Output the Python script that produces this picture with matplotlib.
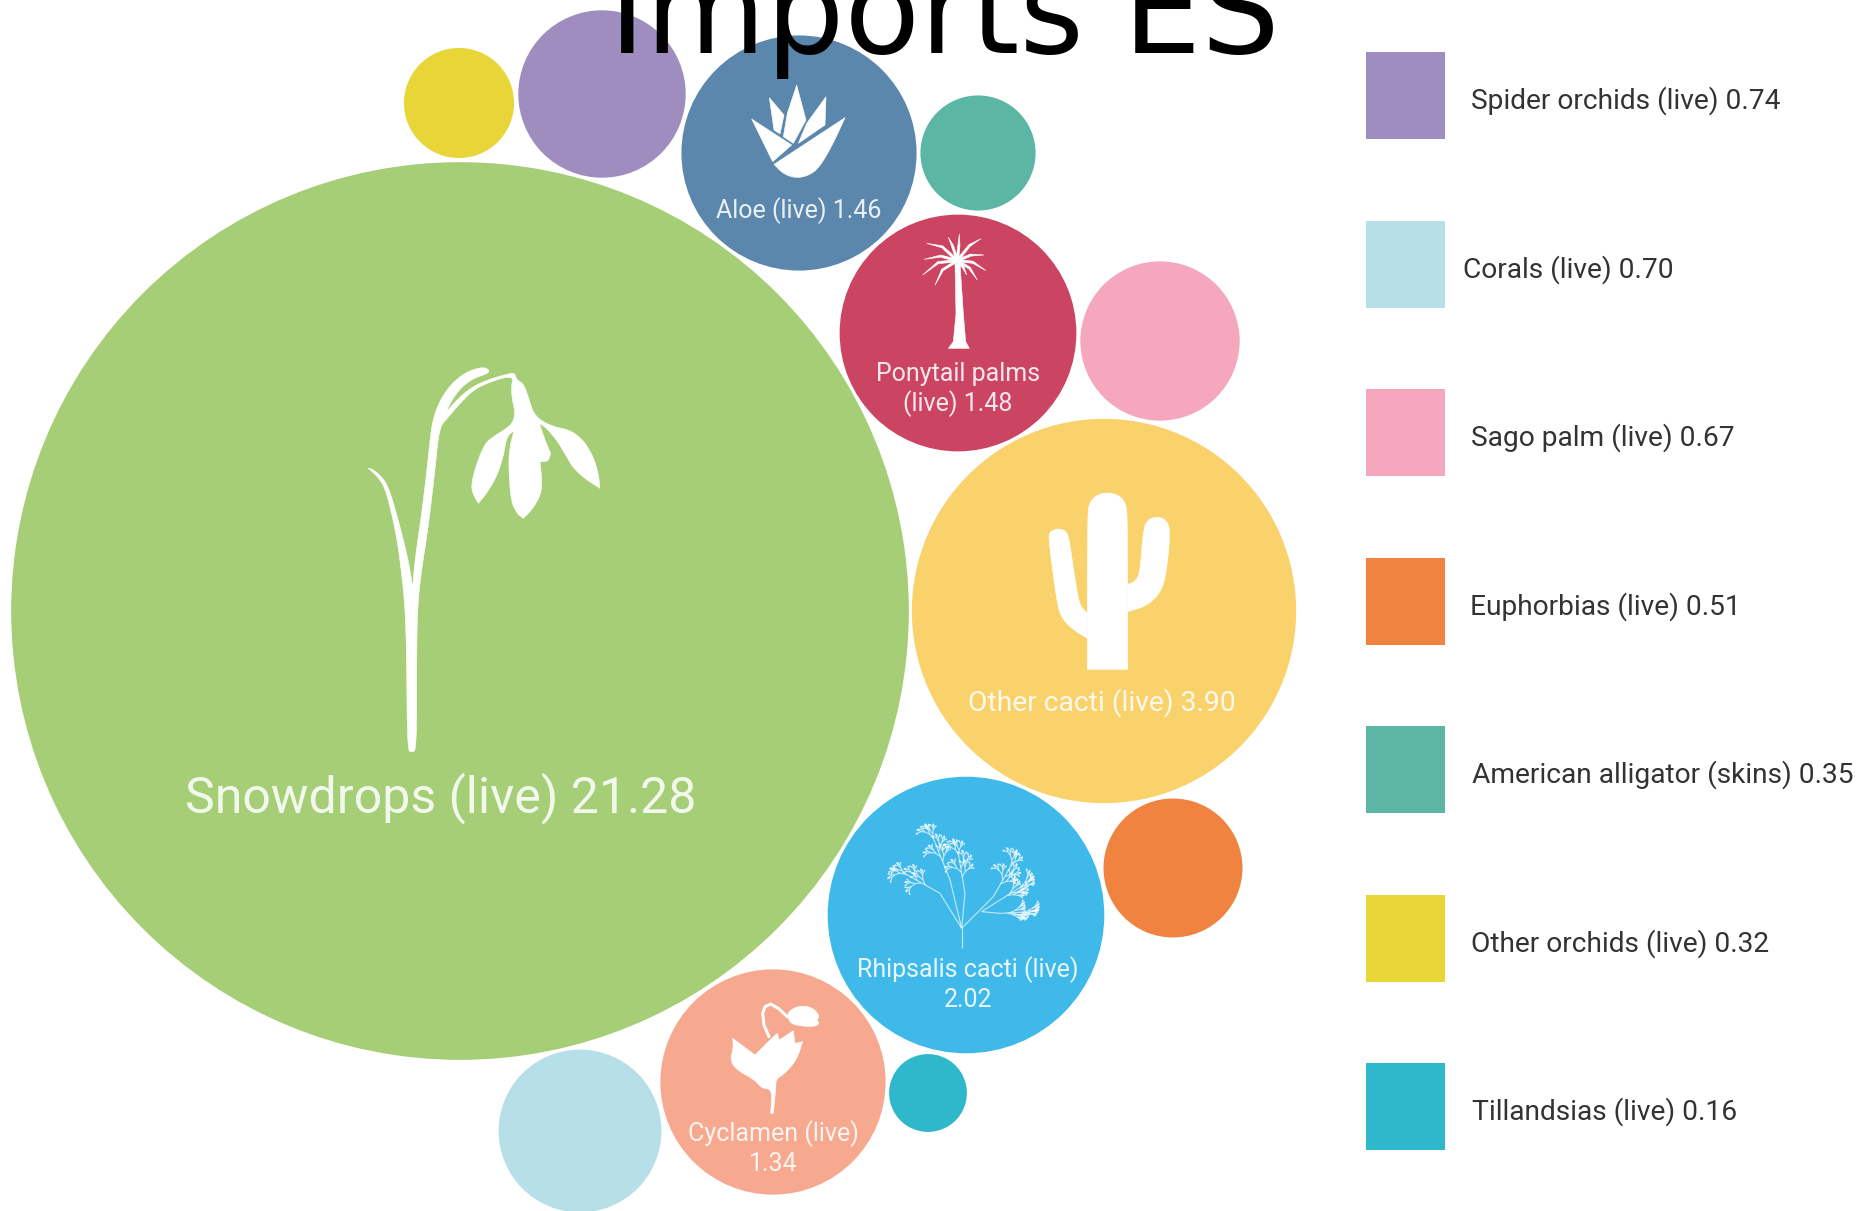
"""
Imports ES bubble chart, with a legend for the small bubbles.
"""

import matplotlib
matplotlib.use('Agg')
import matplotlib.pyplot as plt
from matplotlib.collections import LineCollection
from matplotlib.patches import Circle, Polygon, Rectangle
import numpy as np

# Values
names = ['Snowdrops (live)', 'Other cacti (live)', 'Rhipsalis cacti (live)', 'Ponytail palms (live)',
         'Aloe (live)', 'Cyclamen (live)', 'Spider orchids (live)', 'Corals (live)', 'Sago palm (live)',
         'Euphorbias (live)', 'American alligator (skins)', 'Other orchids (live)', 'Tillandsias (live)']
values = [21.28, 3.90, 2.02, 1.48, 1.46, 1.34, 0.74, 0.70, 0.67, 0.51, 0.35, 0.32, 0.16]
colors = ['#a5ce76', '#f9d26b', '#3eb9ea', '#cb4563', '#5c87ac', '#f6a98f', '#a08dbf', '#b7dfe7',
          '#f5a7be', '#f0833f', '#5bb7a4', '#e8d639', '#2fb7cc']

# Packed layout of the bubbles, pixels of the figure
bubble_x = [460, 1104, 966, 958, 799, 773, 602, 580, 1160, 1173, 978, 459, 928]
bubble_y = [611, 611, 915, 333, 153, 1082, 94, 1131, 341, 868, 153, 103, 1093]
radius_scale = 97.3

# Text inside the bubbles: name index, lines, x, y
inner_labels = [(0, ['Snowdrops (live) 21.28'], 441, 798, 36),
                (1, ['Other cacti (live) 3.90'], 1102, 703, 20.3),
                (2, ['Rhipsalis cacti (live)', '2.02'], 968, 970, 18),
                (3, ['Ponytail palms', '(live) 1.48'], 958, 374, 18),
                (4, ['Aloe (live) 1.46'], 799, 211, 18),
                (5, ['Cyclamen (live)', '1.34'], 773, 1134, 18)]

# Legend
legend_index = [6, 7, 8, 9, 10, 11, 12]
legend_text_x = [1471, 1463, 1471, 1470, 1472, 1471, 1472]
legend_top = 52
legend_step = 168.5

snowdrop = [(215, 1238), (202, 1228), (200, 950), (195, 800), (185, 700), (170, 590), (150, 500), (135, 445),
            (115, 412), (85, 385), (100, 388), (135, 420), (155, 470), (180, 560), (205, 660), (218, 740),
            (225, 660), (245, 520), (262, 380), (272, 280), (280, 235), (300, 180), (335, 130), (380, 95),
            (430, 80), (450, 92), (440, 102), (400, 115), (360, 145), (330, 190), (320, 215), (350, 180),
            (390, 145), (440, 120), (510, 100), (525, 100), (530, 120), (550, 130), (565, 170), (578, 215),
            (600, 240), (640, 260), (690, 270), (730, 300), (760, 350), (775, 400), (780, 445), (740, 420),
            (700, 385), (680, 350), (650, 300), (620, 265), (598, 250), (615, 300), (632, 340), (625, 365),
            (600, 365), (607, 430), (600, 470), (575, 510), (550, 535), (530, 520), (512, 480), (505, 360),
            (512, 310), (522, 272), (500, 290), (490, 350), (470, 410), (440, 460), (415, 490), (400, 465),
            (393, 435), (410, 370), (435, 310), (460, 290), (500, 265), (520, 245), (525, 215), (515, 170),
            (515, 130), (520, 115), (500, 110), (440, 130), (400, 150), (360, 190), (305, 255), (295, 290),
            (285, 390), (265, 560), (240, 720), (232, 820), (230, 950), (230, 1228)]
snowdrop_sharp = [(85, 385), (218, 740), (320, 215), (780, 445), (598, 250), (632, 340), (600, 365), (550, 535),
                  (522, 272), (415, 490), (305, 255)]

aloe_parts = [[(222, 403), (435, 263), (400, 340), (360, 410), (330, 435), (290, 445), (250, 432)],
              [(155, 267), (275, 345), (218, 395)],
              [(208, 203), (252, 255), (240, 312), (222, 300)],
              [(290, 165), (318, 270), (280, 340), (250, 320), (262, 250)],
              [(378, 200), (375, 285), (295, 340), (320, 280)]]
aloe_sharp = [(222, 403), (435, 263)]

palm_trunk = [(745, 955), (760, 935), (768, 850), (765, 700), (780, 700), (790, 850), (797, 935), (808, 955)]
palm_base = (772, 692)
palm_tips = [(680, 640), (745, 622), (778, 612), (843, 626), (852, 675), (858, 722), (832, 750),
             (800, 735), (705, 766), (668, 735), (672, 688)]
palm_bend = [(0, -14), (-3, -10), (0, -6), (0, -14), (0, -10), (4, -12), (8, -8),
             (5, -3), (-10, -8), (-5, -14), (0, -10)]

cactus_parts = [[(262, 658), (262, 190), (270, 155), (290, 135), (322, 127), (355, 135), (375, 155), (383, 190),
                 (383, 658)],
                [(145, 262), (150, 245), (175, 235), (198, 243), (207, 265), (212, 300), (235, 450), (245, 472),
                 (262, 490), (262, 565), (220, 540), (185, 505), (170, 455)],
                [(430, 235), (445, 208), (470, 200), (497, 208), (512, 240), (498, 380), (480, 430), (440, 468),
                 (383, 485), (383, 403), (405, 395), (420, 370)]]
cactus_sharp = [(262, 658), (383, 658), (262, 490), (262, 565), (383, 485), (383, 403)]

tree_limbs = [[(335, 445), (335, 385)],
              [(335, 385), (270, 280), (190, 235)],
              [(335, 385), (300, 240), (260, 140)],
              [(335, 385), (345, 280), (330, 190)],
              [(335, 385), (430, 290), (470, 220)],
              [(395, 335), (450, 300), (490, 275)],
              [(395, 335), (450, 340), (490, 338)]]
tree_spread = [26, 26, 24, 28, 26, 18, 14]
tree_wiggle = [1.0, 1.0, 0.6, 1.3, 0.8, 1.1, 0.7]

cyclamen_body = [(98, 145), (165, 195), (215, 145), (232, 130), (238, 150), (280, 122), (285, 160), (308, 155),
                 (290, 210), (255, 250), (228, 268), (228, 290), (220, 370), (212, 370), (217, 298), (185, 295),
                 (165, 270), (110, 240), (90, 210), (100, 175)]
cyclamen_sharp = [(98, 145), (165, 195), (232, 130), (238, 150), (280, 122), (285, 160), (308, 155), (220, 370),
                  (212, 370)]
cyclamen_head = [(260, 70), (290, 48), (335, 50), (360, 78), (350, 90), (358, 100), (345, 110), (300, 108),
                 (270, 100)]
cyclamen_stalk = [(207, 140), (192, 105), (188, 70), (195, 50), (212, 42), (235, 55), (262, 80)]


def to_fig(points, left, top):
    """Crop points (3x) to figure pixels."""
    return [(left + x / 3, top + y / 3) for x, y in points]


def smooth(points, sharp=(), passes=3):
    """Chaikin corner cutting, points listed in sharp stay corners."""
    pts = []
    for p in points:
        pts.extend([p, p, p] if p in sharp else [p])
    pts = np.array(pts, dtype=float)
    for _ in range(passes):
        nxt = np.roll(pts, -1, axis=0)
        pts = np.column_stack([0.75 * pts + 0.25 * nxt, 0.25 * pts + 0.75 * nxt]).reshape(-1, 2)
    return [tuple(p) for p in pts]


def white_shape(points):
    ax.add_patch(Polygon(points, closed=True, facecolor='white', edgecolor='white', lw=0.4, zorder=3))


def twigs(x, y, angle, length, spread, depth, segs):
    """Branching twigs of the rhipsalis icon, fixed angles."""
    if depth == 0:
        return
    x2 = x + length * np.cos(np.radians(angle))
    y2 = y + length * np.sin(np.radians(angle))
    segs.append([(x, y), (x2, y2)])
    turn = spread * tree_wiggle[depth]
    twigs(x2, y2, angle - turn, length * 0.8, spread, depth - 1, segs)
    twigs(x2, y2, angle + turn * 0.7, length * 0.68, spread, depth - 1, segs)


fig = plt.figure(figsize=(18.64, 12.11), dpi=100, facecolor='white')
ax = fig.add_axes([0, 0, 1, 1])  # llx, lly, w, h
ax.set_xlim(0, 1864)
ax.set_ylim(1211, 0)
ax.axis('off')

### bubbles
for x, y, value, color in zip(bubble_x, bubble_y, values, colors):
    ax.add_patch(Circle((x, y), radius_scale * np.sqrt(value), facecolor=color, edgecolor='none', zorder=2))

### icons
white_shape(to_fig(smooth(snowdrop, snowdrop_sharp), 340, 340))

white_shape(to_fig(smooth(aloe_parts[0], aloe_sharp), 700, 30))
for part in aloe_parts[1:]:
    white_shape(to_fig(part, 700, 30))

white_shape(to_fig(palm_trunk, 700, 30))
for tip, bend in zip(palm_tips, palm_bend):
    base = np.array(palm_base, dtype=float)
    end = np.array(tip, dtype=float)
    side = np.array([-(end - base)[1], (end - base)[0]]) / np.hypot(*(end - base))
    mid = (base + end) / 2 + np.array(bend)
    frond = [base + side * 4, mid + side * 5, end, mid - side * 1.5, base - side * 4]
    white_shape(to_fig(frond, 700, 30))

for part in cactus_parts:
    white_shape(to_fig(smooth(part, cactus_sharp), 1000, 450))

tree_segs = []
for limb in tree_limbs:
    pts = to_fig(limb, 850, 800)
    tree_segs.extend([[a, b] for a, b in zip(pts[:-1], pts[1:])])
for limb, spread in zip(tree_limbs[1:], tree_spread[1:]):
    pts = np.array(to_fig(limb, 850, 800))
    angle = np.degrees(np.arctan2(pts[-1][1] - pts[-2][1], pts[-1][0] - pts[-2][0]))
    twigs(pts[-1][0], pts[-1][1], angle, 8, spread, 6, tree_segs)
    for share, side in [(0.55, 1), (0.7, -1), (0.85, 1)]:
        start = pts[1] + (pts[-1] - pts[1]) * share
        twigs(start[0], start[1], angle + side * spread * 1.4, 6, spread, 5, tree_segs)
ax.add_collection(LineCollection(tree_segs, colors='white', linewidths=0.8, alpha=0.7, zorder=3))

white_shape(to_fig(smooth(cyclamen_body, cyclamen_sharp), 700, 990))
white_shape(to_fig(smooth(cyclamen_head), 700, 990))
stalk = np.array(to_fig(cyclamen_stalk, 700, 990))
ax.plot(stalk[:, 0], stalk[:, 1], color='white', lw=2.2, solid_capstyle='round', zorder=3)

### labels inside the bubbles
for idx, lines, x, y, size in inner_labels:
    for k, line in enumerate(lines):
        ax.text(x, y + k * 30, line, color='white', alpha=0.88, family='Roboto', fontsize=size,
                ha='center', va='center', zorder=4)

### legend
for row, idx in enumerate(legend_index):
    top = legend_top + row * legend_step
    ax.add_patch(Rectangle((1366, top), 79, 87, facecolor=colors[idx], edgecolor='none', zorder=2))
    ax.text(legend_text_x[row], top + 49, '{} {:.2f}'.format(names[idx], values[idx]),
            color='#333333', family='Roboto', fontsize=20.25, ha='left', va='center', zorder=4)

### title, runs off the top of the figure
ax.text(944, 53, 'Imports ES', color='black', family='DejaVu Sans', fontsize=89, ha='center', va='baseline', zorder=5)

fig.savefig('out.png', dpi=100)
